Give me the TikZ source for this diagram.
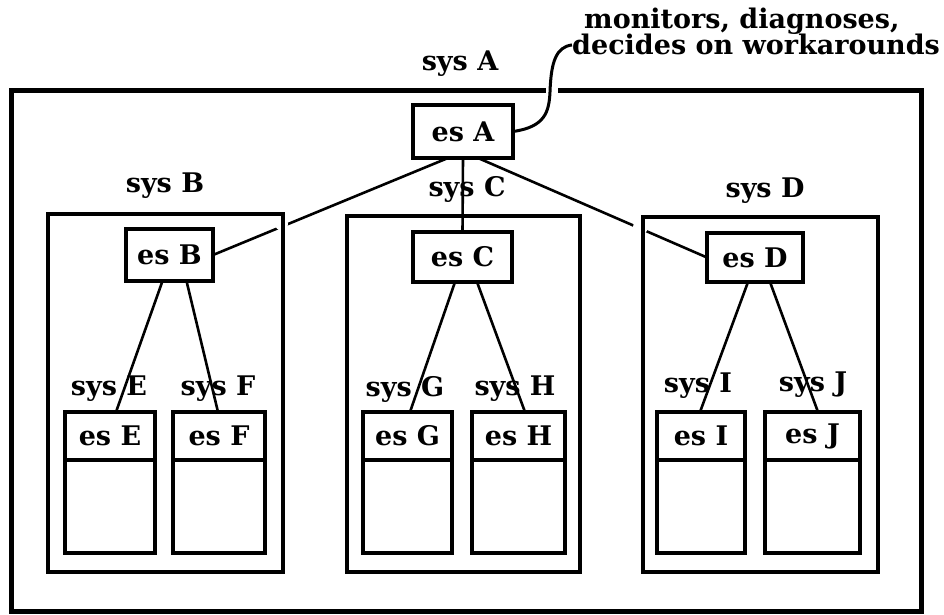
\documentclass[tikz,border=0pt]{standalone}
\usepackage{fontspec}
\setmainfont{DejaVu Serif}
\usetikzlibrary{backgrounds}
\begin{document}
\begin{tikzpicture}[x=1pt,y=-1pt,
  txt/.style={font=\bfseries\fontsize{27}{27}\selectfont, inner sep=0pt},
  sysbox/.style={draw, line width=3.5pt, inner sep=0pt, outer sep=0pt},
  esbox/.style={draw, line width=4.2pt, inner sep=0pt, outer sep=0pt, font=\bfseries\fontsize{27}{27}\selectfont},
  link/.style={line width=2.6pt},
  gapfill/.style={fill=white}]
\useasboundingbox (0,0) rectangle (944,615);

% outer system
\node[draw, line width=5pt, inner sep=0pt, outer sep=0pt, minimum width=910pt, minimum height=520pt] (sysAbox) at (466,351) {};
\node[txt] (lsysA) at (460,64) {sys A};

% subsystem boxes
\node[sysbox, minimum width=235pt, minimum height=358pt] (sysBbox) at (165.5,393) {};
\node[sysbox, minimum width=233pt, minimum height=356pt] (sysCbox) at (463.5,394) {};
\node[sysbox, minimum width=235pt, minimum height=355pt] (sysDbox) at (760.5,394.5) {};
\node[txt] (lsysB) at (165,186) {sys B};
\node[txt] (lsysC) at (467,189) {sys C};
\node[txt] (lsysD) at (765,191) {sys D};

% expert systems
\node[esbox, minimum width=100pt, minimum height=53pt] (esA) at (463,131.5) {es A};
\node[esbox, minimum width=87pt, minimum height=52pt] (esB) at (169.5,255) {es B};
\node[esbox, minimum width=99pt, minimum height=50pt] (esC) at (462.5,257) {es C};
\node[esbox, minimum width=96pt, minimum height=49pt] (esD) at (755,257.5) {es D};

\node[esbox, minimum width=90pt, minimum height=48pt] (esE) at (110,436) {es E};
\node[esbox, minimum width=90pt, minimum height=93pt, anchor=north] (esEbody) at (esE.south) {};
\node[esbox, minimum width=92pt, minimum height=48pt] (esF) at (219,436) {es F};
\node[esbox, minimum width=92pt, minimum height=93pt, anchor=north] (esFbody) at (esF.south) {};
\node[esbox, minimum width=89pt, minimum height=48pt] (esG) at (407.5,436) {es G};
\node[esbox, minimum width=89pt, minimum height=93pt, anchor=north] (esGbody) at (esG.south) {};
\node[esbox, minimum width=93pt, minimum height=48pt] (esH) at (518.5,436) {es H};
\node[esbox, minimum width=93pt, minimum height=93pt, anchor=north] (esHbody) at (esH.south) {};
\node[esbox, minimum width=88pt, minimum height=48pt] (esI) at (701,436) {es I};
\node[esbox, minimum width=88pt, minimum height=93pt, anchor=north] (esIbody) at (esI.south) {};
\node[esbox, minimum width=95pt, minimum height=48pt] (esJ) at (812.5,436) {es J};
\node[esbox, minimum width=95pt, minimum height=93pt, anchor=north] (esJbody) at (esJ.south) {};

\node[txt] (lsysE) at (109,389) {sys E};
\node[txt] (lsysF) at (218,389) {sys F};
\node[txt] (lsysG) at (405,389) {sys G};
\node[txt] (lsysH) at (515,389) {sys H};
\node[txt] (lsysI) at (698,386) {sys I};
\node[txt] (lsysJ) at (813,385) {sys J};

% connectors
\begin{scope}[on background layer]
\draw[link] ([xshift=-15pt]esA.south) -- (esB.east);
\draw[link] (esA.south) -- (esC.north);
\draw[link] ([xshift=15pt]esA.south) -- (esD.west);
\draw[link] ([xshift=-7pt]esB.south) -- ([xshift=6pt]esE.north);
\draw[link] ([xshift=17pt]esB.south) -- ([xshift=-1pt]esF.north);
\draw[link] ([xshift=-7.5pt]esC.south) -- ([xshift=2.5pt]esG.north);
\draw[link] ([xshift=14.5pt]esC.south) -- ([xshift=6.5pt]esH.north);
\draw[link] ([xshift=-7pt]esD.south) -- ([xshift=-1pt]esI.north);
\draw[link] ([xshift=15pt]esD.south) -- ([xshift=5.5pt]esJ.north);
\fill[gapfill] (281.5,224) circle (6.5pt);
\fill[gapfill] (640.5,227) circle (7.5pt);
\end{scope}

% annotation
\node[txt, anchor=base west] (note1) at (584,29) {monitors, diagnoses,};
\node[txt, anchor=base west] (note2) at (572,55) {decides on workarounds};
\fill[gapfill] (546,86) rectangle (558,96);
\draw[line width=3pt] (esA.east) .. controls (545,127) and (549,112) .. (550,92)
  .. controls (551,62) and (556,47) .. (note2.west);
\end{tikzpicture}
\end{document}
